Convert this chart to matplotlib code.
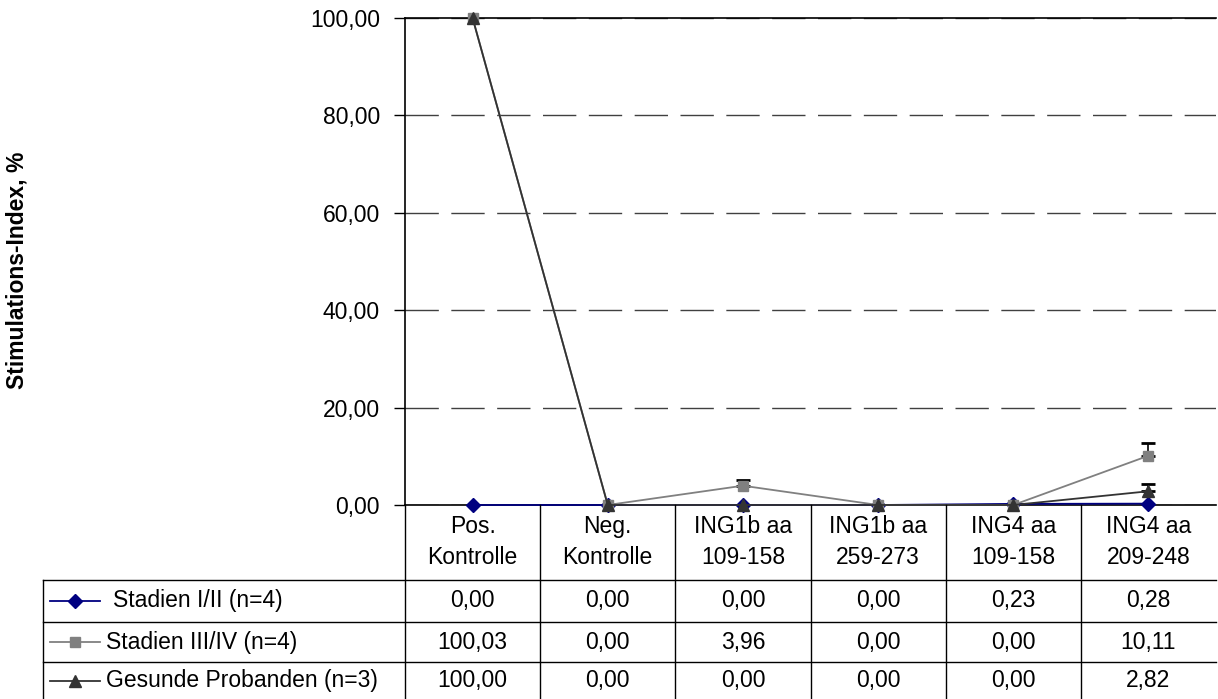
import matplotlib
matplotlib.use("Agg")
import matplotlib.pyplot as plt
from matplotlib.lines import Line2D
from matplotlib.transforms import blended_transform_factory
import numpy as np

plt.rcParams["font.family"] = ["Liberation Sans", "DejaVu Sans"]

# ---- data -------------------------------------------------------------
categories = ["Pos.\nKontrolle", "Neg.\nKontrolle", "ING1b aa\n109-158",
              "ING1b aa\n259-273", "ING4 aa\n109-158", "ING4 aa\n209-248"]
series_names = ["Stadien I/II (n=4)", "Stadien III/IV (n=4)", "Gesunde Probanden (n=3)"]
stadien_1_2 = [0.00, 0.00, 0.00, 0.00, 0.23, 0.28]
stadien_3_4 = [100.03, 0.00, 3.96, 0.00, 0.00, 10.11]
gesunde = [100.00, 0.00, 0.00, 0.00, 0.00, 2.82]
# upper error (standard error) per point
err_1_2 = [0.0, 0.0, 0.0, 0.0, 0.0, 0.0]
err_3_4 = [0.0, 0.0, 1.2, 0.0, 0.0, 2.6]
err_gesunde = [0.0, 0.0, 0.0, 0.0, 0.0, 1.5]
y_ticks = [0, 20, 40, 60, 80, 100]
y_label = "Stimulations-Index, %"

series = [stadien_1_2, stadien_3_4, gesunde]
errors = [err_1_2, err_3_4, err_gesunde]
colors = ["#000080", "#808080", "#333333"]
markers = ["D", "s", "^"]
msizes = [7, 7, 9]
FS = 16.5

W, H = 1218, 699
fig = plt.figure(figsize=(W / 100, H / 100), dpi=100)
fig.patch.set_facecolor("white")


def fx(px):
    return px / W


def fy(py):
    return 1 - py / H


def fmt(v):
    return f"{v:.2f}".replace(".", ",")


ax_left, ax_right, ax_top, ax_bot = 405, 1216, 18, 505
ax = fig.add_axes([fx(ax_left), fy(ax_bot), fx(ax_right) - fx(ax_left), (ax_bot - ax_top) / H])

x = np.arange(len(categories))
for vals, errs, c, m, ms in zip(series, errors, colors, markers, msizes):
    ax.plot(x, vals, color=c, lw=1.3, marker=m, markersize=ms,
            markerfacecolor=c, markeredgecolor=c, clip_on=False, zorder=3)
    vals_a = np.array(vals)
    errs_a = np.array(errs)
    sel = errs_a > 0
    if sel.any():
        ax.errorbar(x[sel], vals_a[sel], yerr=[np.zeros(sel.sum()), errs_a[sel]],
                    fmt="none", ecolor="black", elinewidth=1.2, capsize=5,
                    capthick=2, zorder=2)

ax.set_xlim(-0.5, len(categories) - 0.5)
ax.set_ylim(0, 100)
ax.set_yticks(y_ticks)
ax.set_yticklabels([fmt(v) for v in y_ticks])
ax.set_xticks([])
ax.tick_params(axis="y", direction="out", length=8, width=1, pad=10,
               labelsize=FS, color="black")
ax.yaxis.grid(True, linestyle=(0, (24, 9)), color="#404040", lw=1)
ax.set_axisbelow(True)
for side in ["left", "bottom", "top"]:
    ax.spines[side].set_color("black")
    ax.spines[side].set_linewidth(1.2)
ax.spines["right"].set_visible(False)

fig.text(fx(17), fy(270), y_label, rotation=90, ha="center", va="center",
         fontsize=16.5, fontweight="bold")

# ---- data table below the plot -----------------------------------------
blend = blended_transform_factory(ax.transData, fig.transFigure)
tab_bottom = 699
row_edges = [580, 622, 662]
row_centers = [601, 642, 681]
leg_left = 43
name_x = [113, 106, 106]


def fig_line(xs, ys, tr=None, **kw):
    fig.add_artist(Line2D(xs, ys, transform=tr if tr is not None else fig.transFigure,
                          color="black", lw=1, **kw))


# column separators
for b in np.arange(-0.5, len(categories) + 0.5, 1.0)[:-1]:
    fig_line([b, b], [fy(ax_bot), fy(tab_bottom)], tr=blend)
# legend column border
fig_line([fx(leg_left), fx(leg_left)], [fy(row_edges[0]), fy(tab_bottom)])
# row separators
for r in row_edges:
    fig_line([fx(leg_left), fx(ax_right)], [fy(r), fy(r)])

# header: category names
for i, cat in enumerate(categories):
    fig.text(i, fy(542), cat, transform=blend, ha="center", va="center",
             fontsize=FS, linespacing=1.4)

# rows: legend key + values
for vals, name, c, m, ms, yc, nx in zip(series, series_names, colors, markers,
                                        msizes, row_centers, name_x):
    fig.add_artist(Line2D([fx(50), fx(75), fx(100)], [fy(yc)] * 3,
                          transform=fig.transFigure, color=c, lw=1.3,
                          marker=m, markersize=ms, markevery=[1],
                          markerfacecolor=c, markeredgecolor=c))
    fig.text(fx(nx), fy(yc), name, ha="left", va="center", fontsize=FS)
    for i, v in enumerate(vals):
        fig.text(i, fy(yc), fmt(v), transform=blend, ha="center", va="center",
                 fontsize=FS)

fig.savefig("out.png", dpi=100, facecolor="white")
